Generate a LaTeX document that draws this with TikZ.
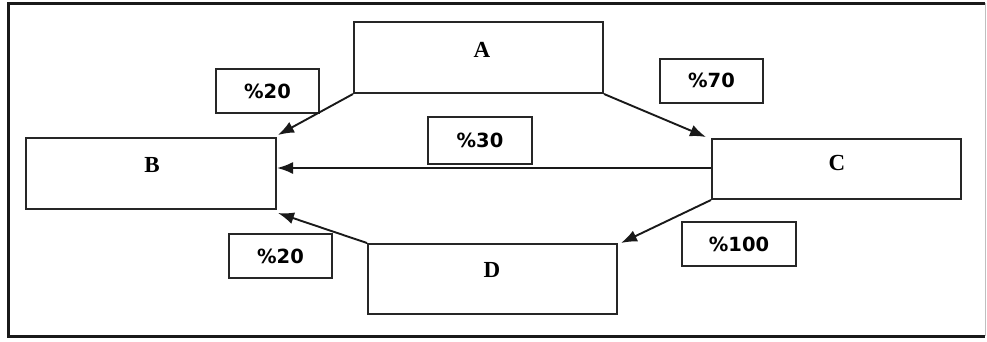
\documentclass[tikz,border=0pt]{standalone}
\usepackage{fontspec}
\setmainfont{Liberation Serif}
\newfontfamily\lblfont{DejaVu Sans}
\usetikzlibrary{arrows.meta}
\begin{document}
\begin{tikzpicture}[x=1pt,y=-1pt,
  bigbox/.style={draw=black!85,line width=2pt,inner sep=0pt,minimum width=#1,font=\fontsize{22}{22}\selectfont\bfseries},
  pctbox/.style={draw=black!85,line width=2pt,inner sep=0pt,minimum width=#1,minimum height=44pt,font=\lblfont\fontsize{19.5}{20}\selectfont\bfseries},
  flow/.style={line width=1.9pt,draw=black!90,-{Latex[length=16pt,width=12pt]}}]
\useasboundingbox (0,0) rectangle (987,341);
% outer frame
\draw[line width=3pt,black!90] (985,3) -- (8,3) -- (8,336) -- (985,336);
\draw[line width=0.8pt,black!25] (985,3) -- (985,336);
% main boxes
\node[bigbox=249pt,minimum height=71pt] (A) at (478.5,57.5) {};
\node[bigbox=250pt,minimum height=71pt] (B) at (151,173.5) {};
\node[bigbox=249pt,minimum height=60pt] (C) at (836.5,169) {};
\node[bigbox=249pt,minimum height=70pt] (D) at (492.5,279) {};
\node[font=\fontsize{23}{23}\selectfont\bfseries] (tA) at (482,50) {A};
\node[font=\fontsize{23}{23}\selectfont\bfseries] (tB) at (152,165) {B};
\node[font=\fontsize{23}{23}\selectfont\bfseries] (tC) at (837,163) {C};
\node[font=\fontsize{23}{23}\selectfont\bfseries] (tD) at (492,270) {D};
% percentage boxes
\node[pctbox=103pt] (p1) at (267.5,91) {\%20};
\node[pctbox=103pt] (p2) at (280.5,256) {\%20};
\node[pctbox=103pt] (p3) at (711.5,80.5) {\%70};
\node[pctbox=104pt,minimum height=47pt] (p4) at (480,140.5) {\%30};
\node[pctbox=114pt] (p5) at (739,244) {\%100};
% connectors
\draw[flow] (A.south west) -- ([shift={(1,-2)}]B.north east);
\draw[flow] (A.south east) -- ([shift={(-5,-1)}]C.north west);
\draw[flow] ([yshift=1pt]C.west) -- ([yshift=1pt]C.west -| B.east);
\draw[flow] (C.south west) -- ([shift={(3,0)}]D.north east);
\draw[flow] (D.north west) -- ([shift={(1,3)}]B.south east);
\end{tikzpicture}
\end{document}
